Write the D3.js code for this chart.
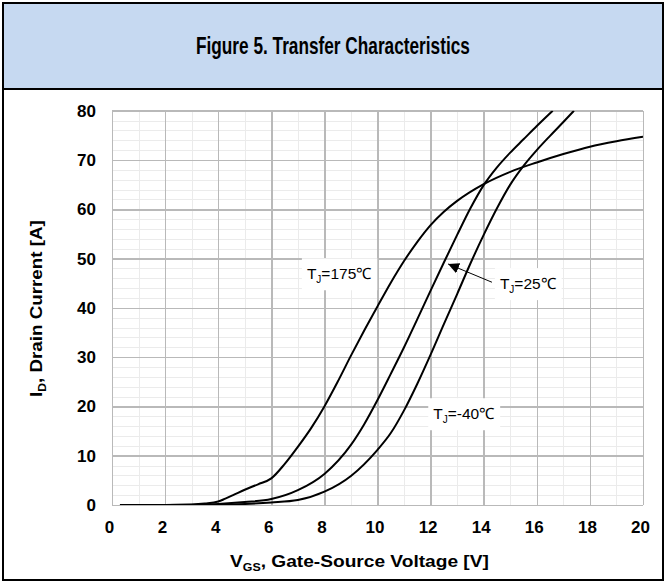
<!DOCTYPE html>
<html>
<head>
<meta charset="utf-8">
<script src="https://d3js.org/d3.v7.min.js"></script>
<title>Transfer Characteristics</title>
<style>
  body { margin: 0; background: #fff; }
  svg { display: block; font-family: "Liberation Sans", Arial, sans-serif; }
  .grid line { shape-rendering: crispEdges; }
  .tick text { font-weight: bold; font-size: 17px; fill: #000; }
</style>
</head>
<body>
<script>
// chart data
const xTicks = [0, 2, 4, 6, 8, 10, 12, 14, 16, 18, 20];
const yTicks = [0, 10, 20, 30, 40, 50, 60, 70, 80];

const vgs175 = [0.3, 1, 2, 3, 3.5, 4, 4.27, 4.56, 5, 5.5, 6, 6.5, 7, 7.5, 8, 8.5, 9, 9.5, 10, 10.5, 11, 11.5, 12, 12.5, 13, 14, 15, 16, 17, 18, 19, 20];
const id175  = [0, 0, 0, 0.1, 0.3, 0.7, 1.3, 2.0, 3.1, 4.2, 5.4, 8.3, 11.8, 15.6, 20, 25, 30.3, 35.4, 40.3, 45.1, 49.5, 53.4, 56.8, 59.5, 61.7, 65.1, 67.6, 69.5, 71.2, 72.7, 73.8, 74.7];

const vgs25 = [0.3, 2, 3, 4, 5, 6, 7, 8, 9, 9.5, 10, 10.5, 11, 11.5, 12, 12.5, 13, 13.5, 14, 14.5, 15, 15.5, 16, 16.6];
const id25  = [0, 0, 0, 0.2, 0.6, 1.2, 3.0, 6.3, 12.2, 16.4, 21.3, 26.6, 32, 37.7, 43.5, 49.2, 54.8, 60.2, 64.9, 68.5, 71.5, 74.2, 76.9, 80];

const vgs40 = [0.3, 2, 4, 5, 6, 7, 8, 9, 10, 10.5, 11, 11.5, 12, 12.5, 13, 13.5, 14, 14.5, 15, 15.5, 16, 16.5, 17, 17.4];
const id40  = [0, 0, 0.05, 0.2, 0.5, 1.0, 2.7, 5.9, 11.2, 14.6, 19.2, 24.6, 30.5, 36.7, 42.8, 49, 54.8, 60.2, 65, 68.8, 72, 74.9, 77.7, 80];

const W = 666, H = 583;
const svg = d3.select("body").append("svg").attr("width", W).attr("height", H);

// squeeze a text horizontally so it spans the given width
function fitWidth(sel, width) {
  const w = sel.node().getComputedTextLength();
  const s = width / w;
  const x0 = +sel.attr("x");
  sel.attr("transform", `translate(${x0 * (1 - s)},0) scale(${s},1)`);
}

// title band and frame
svg.append("rect").attr("x", 3).attr("y", 3).attr("width", 660).attr("height", 86)
  .attr("fill", "#c6d9f1");
svg.append("line").attr("x1", 3).attr("x2", 663).attr("y1", 89).attr("y2", 89)
  .attr("stroke", "#000").attr("stroke-width", 2);
svg.append("rect").attr("x", 3).attr("y", 3).attr("width", 660).attr("height", 577)
  .attr("fill", "none").attr("stroke", "#000").attr("stroke-width", 2);
const title = svg.append("text").attr("x", 196).attr("y", 54)
  .attr("font-size", 23).attr("font-weight", "bold")
  .text("Figure 5. Transfer Characteristics");
fitWidth(title, 274);

// scales
const x = d3.scaleLinear().domain([0, 20]).range([112, 643]);
const y = d3.scaleLinear().domain([0, 80]).range([505, 110.7]);

// minor grid
svg.append("g").attr("class", "grid")
  .attr("transform", `translate(0,${y(0)})`)
  .call(d3.axisBottom(x).tickValues(d3.range(1, 20, 2)).tickSize(-(y(0) - y(80))).tickFormat(""))
  .call(g => g.select(".domain").remove())
  .selectAll("line").attr("stroke", "#ebebeb");
svg.append("g").attr("class", "grid")
  .attr("transform", `translate(${x(0)},0)`)
  .call(d3.axisLeft(y).tickValues(d3.range(2, 80, 2).filter(v => v % 10)).tickSize(-(x(20) - x(0))).tickFormat(""))
  .call(g => g.select(".domain").remove())
  .selectAll("line").attr("stroke", "#ebebeb");

// major grid
svg.append("g").attr("class", "grid")
  .attr("transform", `translate(0,${y(0)})`)
  .call(d3.axisBottom(x).tickValues(xTicks).tickSize(-(y(0) - y(80))).tickFormat(""))
  .call(g => g.select(".domain").remove())
  .selectAll("line").attr("stroke", "#b9b9b9").attr("stroke-width", 1.5);
svg.append("g").attr("class", "grid")
  .attr("transform", `translate(${x(0)},0)`)
  .call(d3.axisLeft(y).tickValues(yTicks).tickSize(-(x(20) - x(0))).tickFormat(""))
  .call(g => g.select(".domain").remove())
  .selectAll("line").attr("stroke", "#b9b9b9").attr("stroke-width", 1.5);

// tick labels
svg.append("g")
  .attr("transform", `translate(-3,${y(0)})`)
  .call(d3.axisBottom(x).tickValues(xTicks).tickSize(0).tickPadding(16))
  .call(g => g.select(".domain").remove());
svg.append("g")
  .attr("transform", `translate(${x(0)},0)`)
  .call(d3.axisLeft(y).tickValues(yTicks).tickSize(0).tickPadding(16))
  .call(g => g.select(".domain").remove());

// axis titles
const xt = svg.append("text").attr("x", 230).attr("y", 567)
  .attr("font-size", 17).attr("font-weight", "bold");
xt.append("tspan").text("V");
xt.append("tspan").attr("font-size", 11).attr("dy", 4).text("GS");
xt.append("tspan").attr("dy", -4).text(", Gate-Source Voltage [V]");
fitWidth(xt, 259);

const yt = svg.append("g").attr("transform", "translate(42,397) rotate(-90)")
  .append("text").attr("x", 0).attr("y", 0)
  .attr("font-size", 17).attr("font-weight", "bold");
yt.append("tspan").text("I");
yt.append("tspan").attr("font-size", 11).attr("dy", 4).text("D");
yt.append("tspan").attr("dy", -4).text(", Drain Current [A]");
fitWidth(yt, 177);

// curves
svg.append("clipPath").attr("id", "plot")
  .append("rect").attr("x", x(0)).attr("y", y(80)).attr("width", x(20) - x(0)).attr("height", y(0) - y(80));

const line = d3.line().x(d => x(d[0])).y(d => y(d[1])).curve(d3.curveMonotoneX);
const series = [
  d3.zip(vgs175, id175),
  d3.zip(vgs25, id25),
  d3.zip(vgs40, id40)
];
svg.append("g").attr("clip-path", "url(#plot)")
  .selectAll("path").data(series).join("path")
  .attr("d", line)
  .attr("fill", "none").attr("stroke", "#000").attr("stroke-width", 2);

// annotations
function label(px, py, rest) {
  const g = svg.append("g");
  const box = g.append("rect").attr("fill", "#fff");
  const t = g.append("text").attr("x", px).attr("y", py).attr("font-size", 15.5);
  t.append("tspan").text("T");
  t.append("tspan").attr("font-size", 10).attr("dy", 4).text("J");
  t.append("tspan").attr("dy", -4).text(rest);
  const b = t.node().getBBox();
  box.attr("x", b.x - 5).attr("y", b.y - 7).attr("width", b.width + 10).attr("height", b.height + 12);
}
label(x(7.34), y(45.8), "=175\u2103");
label(x(14.61), y(43.8), "=25\u2103");
label(x(12.1), y(17.4), "=-40\u2103");

// arrow for the 25 degree label
svg.append("defs").append("marker").attr("id", "arr")
  .attr("viewBox", "0 0 10 10").attr("refX", 10).attr("refY", 5)
  .attr("markerWidth", 11).attr("markerHeight", 11).attr("markerUnits", "userSpaceOnUse")
  .attr("orient", "auto")
  .append("path").attr("d", "M0,0L10,5L0,10z").attr("fill", "#000");
svg.append("line")
  .attr("x1", x(14.31)).attr("y1", y(45.2)).attr("x2", x(12.66)).attr("y2", y(48.9))
  .attr("stroke", "#000").attr("stroke-width", 1).attr("marker-end", "url(#arr)");
</script>
</body>
</html>
